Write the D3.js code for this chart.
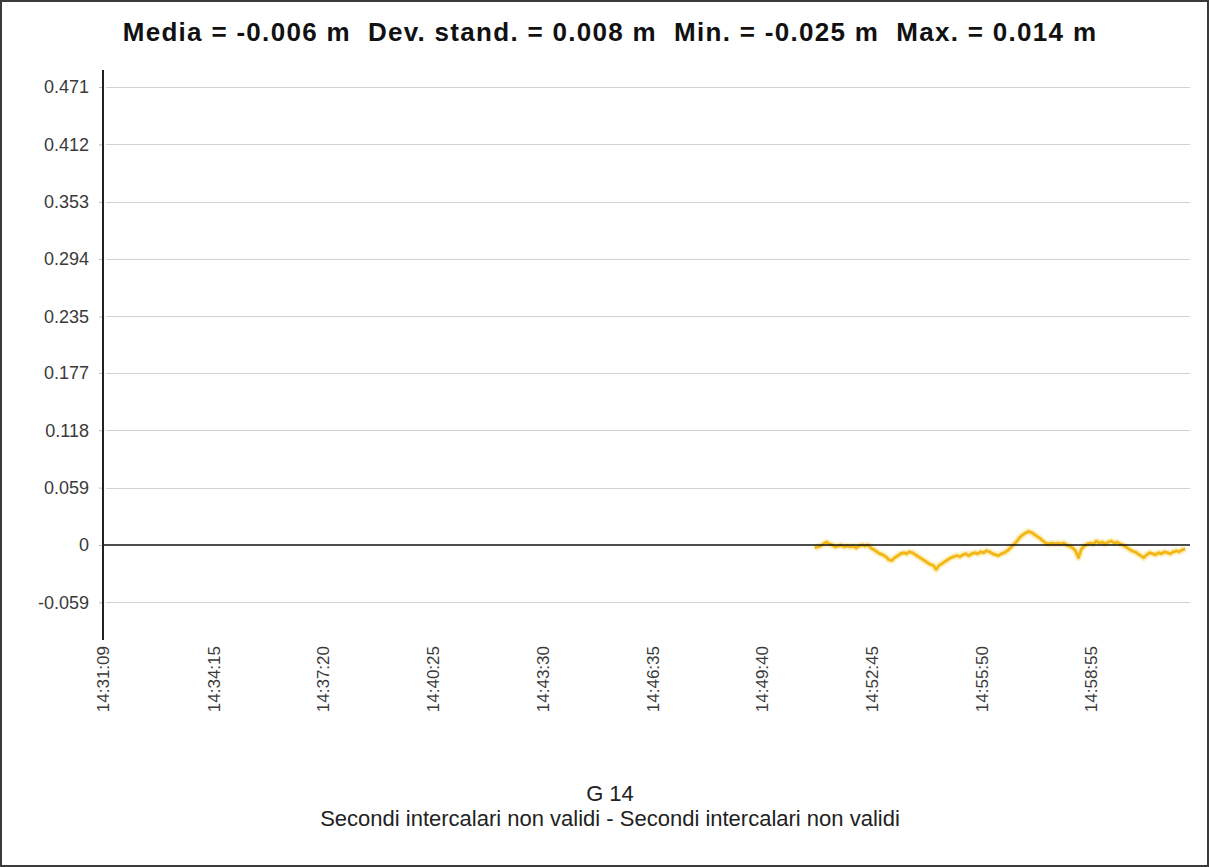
<!DOCTYPE html>
<html>
<head>
<meta charset="utf-8">
<script src="https://cdn.jsdelivr.net/npm/d3@7"></script>
<style>
  html, body { margin: 0; padding: 0; background: #fff; }
  svg { display: block; }
</style>
</head>
<body>
<svg id="chart" width="1209" height="867"></svg>
<script>
// Statistics shown in the header
const titleText = "Media = -0.006 m  Dev. stand. = 0.008 m  Min. = -0.025 m  Max. = 0.014 m";
const satelliteLabel = "G 14";
const subtitleText = "Secondi intercalari non validi - Secondi intercalari non validi";

// Y axis ticks (metres)
const yTicks = [-0.059, 0, 0.059, 0.118, 0.177, 0.235, 0.294, 0.353, 0.412, 0.471];
const yTickLabels = ["-0.059", "0", "0.059", "0.118", "0.177", "0.235", "0.294", "0.353", "0.412", "0.471"];

// X axis tick labels (hh:mm:ss)
const xTickLabels = ["14:31:09", "14:34:15", "14:37:20", "14:40:25", "14:43:30",
                     "14:46:35", "14:49:40", "14:52:45", "14:55:50", "14:58:55"];
const xStart = "14:31:09";
const xEnd = "15:01:42";

// Series: one sample every 5 s from 14:51:09
const seriesStart = "14:51:09";
const seriesStepSec = 5;
const seriesValues = [
  -0.003, -0.002, -0.001, 0.001, 0.003, 0.001, 0.000, -0.002, -0.001, 0.000,
  -0.002, -0.001, -0.002, -0.001, -0.003, -0.001, 0.000, -0.001, 0.000, -0.003,
  -0.005, -0.007, -0.009, -0.010, -0.012, -0.015, -0.016, -0.013, -0.011, -0.009,
  -0.008, -0.009, -0.007, -0.008, -0.010, -0.012, -0.014, -0.016, -0.018, -0.020,
  -0.021, -0.025, -0.021, -0.019, -0.017, -0.015, -0.013, -0.012, -0.011, -0.012,
  -0.010, -0.009, -0.011, -0.009, -0.008, -0.009, -0.007, -0.008, -0.006, -0.007,
  -0.009, -0.010, -0.011, -0.009, -0.008, -0.006, -0.003, 0.000, 0.003, 0.007,
  0.010, 0.012, 0.014, 0.013, 0.011, 0.009, 0.007, 0.004, 0.002, 0.001,
  0.002, 0.001, 0.002, 0.001, 0.002, 0.000, -0.001, -0.003, -0.006, -0.013,
  -0.004, -0.001, 0.001, 0.002, 0.001, 0.004, 0.002, 0.003, 0.001, 0.003,
  0.004, 0.002, 0.003, 0.001, 0.000, -0.002, -0.004, -0.006, -0.007, -0.009,
  -0.011, -0.013, -0.010, -0.008, -0.009, -0.010, -0.008, -0.009, -0.007, -0.008,
  -0.009, -0.007, -0.006, -0.007, -0.005, -0.004
];

const parseTime = d3.timeParse("%H:%M:%S");
const t0 = parseTime(seriesStart);
const series = seriesValues.map((v, i) => ({
  t: new Date(t0.getTime() + i * seriesStepSec * 1000),
  v
}));

const svg = d3.select("#chart");
const W = 1209, H = 867;
const plot = { left: 103, right: 1190, top: 70, bottom: 640 };
const FONT = "Liberation Sans, Arial, sans-serif";

const x = d3.scaleTime()
  .domain([parseTime(xStart), parseTime(xEnd)])
  .range([plot.left, plot.right]);

const y = d3.scaleLinear()
  .domain([-0.0977, 0.4885])
  .range([plot.bottom, plot.top]);

// outer frame
svg.append("rect")
  .attr("x", 1).attr("y", 1)
  .attr("width", W - 2).attr("height", H - 2)
  .attr("fill", "#fff")
  .attr("stroke", "#3a3a3a")
  .attr("stroke-width", 2);

// title
svg.append("text")
  .attr("x", 610).attr("y", 41)
  .attr("text-anchor", "middle")
  .attr("font-family", FONT)
  .attr("font-weight", "bold")
  .attr("font-size", 26)
  .attr("letter-spacing", 1.3)
  .attr("fill", "#111")
  .style("white-space", "pre")
  .text(titleText);

// horizontal grid lines
svg.append("g")
  .selectAll("line")
  .data(yTicks.filter(d => d !== 0))
  .join("line")
  .attr("x1", plot.left + 3).attr("x2", plot.right)
  .attr("y1", d => Math.round(y(d)) + 0.5).attr("y2", d => Math.round(y(d)) + 0.5)
  .attr("stroke", "#d2d2d2")
  .attr("stroke-width", 1);

// y axis
const yAxis = d3.axisLeft(y)
  .tickValues(yTicks)
  .tickFormat((d, i) => yTickLabels[i])
  .tickSize(4)
  .tickPadding(10);
const gy = svg.append("g")
  .attr("transform", `translate(${plot.left},0)`)
  .call(yAxis);
gy.select(".domain").remove();
gy.selectAll(".tick line").attr("stroke", "#bbb");
gy.selectAll(".tick text")
  .attr("font-family", FONT)
  .attr("font-size", 18)
  .attr("fill", "#3a3a3a");

// x axis labels (rotated)
const xTicks = xTickLabels.map(parseTime);
const xAxis = d3.axisBottom(x)
  .tickValues(xTicks)
  .tickFormat((d, i) => xTickLabels[i])
  .tickSize(0)
  .tickPadding(0);
const gx = svg.append("g")
  .attr("transform", `translate(0,${plot.bottom})`)
  .call(xAxis);
gx.select(".domain").remove();
gx.selectAll(".tick text")
  .attr("font-family", FONT)
  .attr("font-size", 17)
  .attr("fill", "#3a3a3a")
  .attr("text-anchor", "end")
  .attr("dy", "0.35em")
  .attr("transform", "translate(0,6) rotate(-90)")
  .attr("y", 0)
  .attr("x", 0);

// series line
const line = d3.line()
  .x(d => x(d.t))
  .y(d => y(d.v))
  .curve(d3.curveLinear);

svg.append("path")
  .datum(series)
  .attr("d", line)
  .attr("fill", "none")
  .attr("stroke", "#fbe18c")
  .attr("stroke-width", 7)
  .attr("stroke-opacity", 0.5)
  .attr("stroke-linejoin", "round");

svg.append("path")
  .datum(series)
  .attr("d", line)
  .attr("fill", "none")
  .attr("stroke", "#f2b818")
  .attr("stroke-width", 3)
  .attr("stroke-linejoin", "round");

// zero line
svg.append("line")
  .attr("x1", plot.left).attr("x2", plot.right)
  .attr("y1", y(0)).attr("y2", y(0))
  .attr("stroke", "#111")
  .attr("stroke-width", 1.5);

// y axis line
svg.append("line")
  .attr("x1", plot.left).attr("x2", plot.left)
  .attr("y1", plot.top).attr("y2", plot.bottom)
  .attr("stroke", "#222")
  .attr("stroke-width", 2);

// bottom labels
svg.append("text")
  .attr("x", 610).attr("y", 801)
  .attr("text-anchor", "middle")
  .attr("font-family", FONT)
  .attr("font-size", 22)
  .attr("fill", "#222")
  .text(satelliteLabel);

svg.append("text")
  .attr("x", 610).attr("y", 826)
  .attr("text-anchor", "middle")
  .attr("font-family", FONT)
  .attr("font-size", 22)
  .attr("fill", "#222")
  .text(subtitleText);
</script>
</body>
</html>
